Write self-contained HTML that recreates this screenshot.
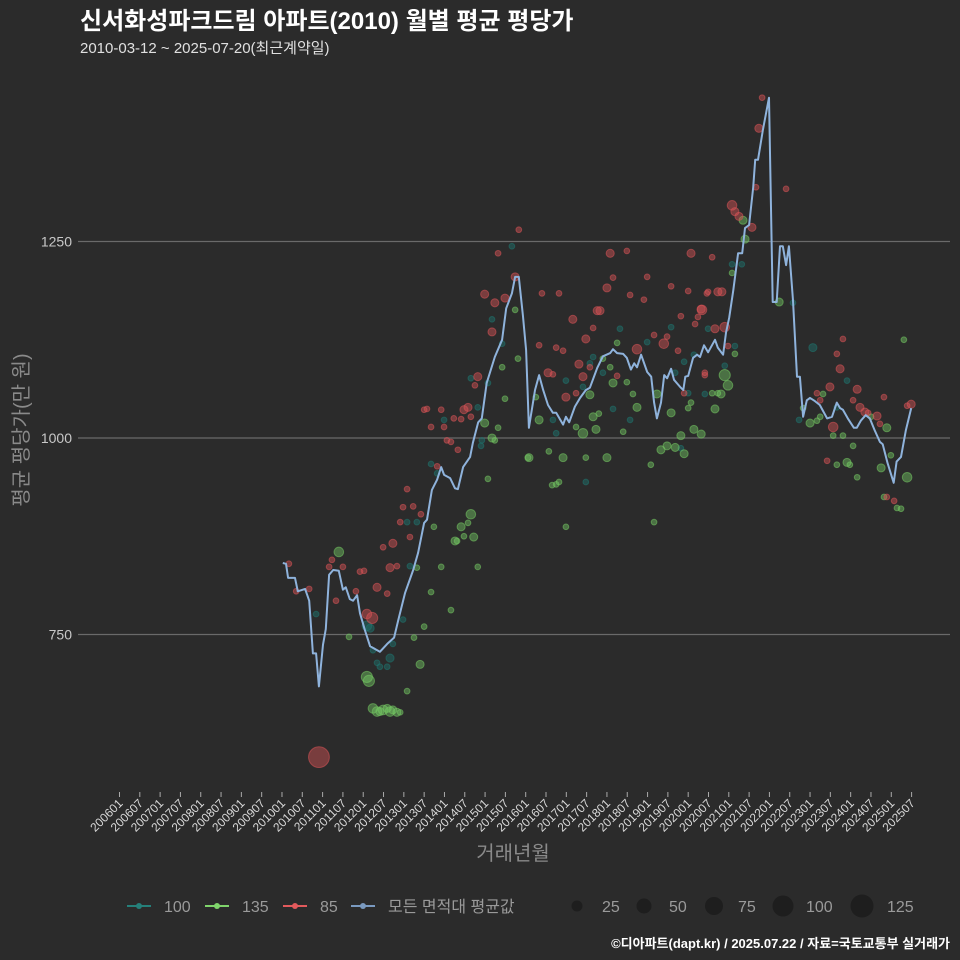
<!DOCTYPE html>
<html><head><meta charset="utf-8">
<style>
body{margin:0;background:#2b2b2b;position:relative;width:960px;height:960px;overflow:hidden;}
svg{display:block;font-family:"Liberation Sans","Noto Sans CJK KR",sans-serif;}
#ytitle{position:absolute;left:22px;top:430px;transform:translate(-50%,-50%) rotate(-90deg);white-space:nowrap;color:#8a8a8a;font-size:20px;font-family:"Liberation Sans","Noto Sans CJK KR",sans-serif;line-height:1;}
</style></head>
<body>
<svg id="chart" width="960" height="960" xmlns="http://www.w3.org/2000/svg">
<rect width="960" height="960" fill="#2b2b2b"/>
<text x="80" y="29" fill="#ffffff" font-size="24" font-weight="bold">신서화성파크드림 아파트(2010) 월별 평균 평당가</text>
<text x="80" y="53" fill="#e0e0e0" font-size="15">2010-03-12 ~ 2025-07-20(최근계약일)</text>
<g id="grid"></g>
<g id="yticks"></g>
<g id="xticks"></g>
<g id="points"></g>
<g id="line"></g>
<text x="513" y="860" text-anchor="middle" fill="#8a8a8a" font-size="20">거래년월</text>
<g id="legend"></g>
<text x="950" y="948" text-anchor="end" fill="#ffffff" font-size="13" font-weight="bold">©디아파트(dapt.kr) / 2025.07.22 / 자료=국토교통부 실거래가</text>
</svg>
<div id="ytitle">평균 평당가(만 원)</div>
<script>
const yTicks=[750,1000,1250];
const xTickLabels=[];
for(let y=2006;y<=2025;y++){xTickLabels.push(y+'01');xTickLabels.push(y+'07');}
const lineDates=[2010.02,2010.10,2010.15,2010.32,2010.39,2010.57,2010.67,2010.76,2010.84,2010.91,2011.01,2011.08,2011.16,2011.26,2011.40,2011.50,2011.57,2011.67,2011.75,2011.85,2011.92,2012.04,2012.17,2012.41,2012.59,2012.76,2012.86,2013.03,2013.23,2013.35,2013.50,2013.57,2013.69,2013.82,2013.92,2013.99,2014.14,2014.26,2014.33,2014.46,2014.63,2014.70,2014.83,2014.92,2015.04,2015.24,2015.42,2015.52,2015.66,2015.74,2015.83,2015.93,2016.01,2016.08,2016.23,2016.33,2016.43,2016.55,2016.67,2016.75,2016.92,2016.99,2017.07,2017.21,2017.34,2017.48,2017.58,2017.76,2017.90,2018.08,2018.15,2018.25,2018.40,2018.49,2018.59,2018.67,2018.74,2018.84,2018.99,2019.09,2019.16,2019.23,2019.33,2019.41,2019.48,2019.58,2019.65,2019.80,2019.88,2019.93,2020.00,2020.12,2020.22,2020.29,2020.39,2020.49,2020.66,2020.73,2020.86,2020.93,2021.01,2021.11,2021.23,2021.33,2021.40,2021.50,2021.60,2021.65,2021.72,2021.84,2021.99,2022.08,2022.18,2022.26,2022.33,2022.41,2022.48,2022.58,2022.68,2022.75,2022.83,2022.92,2023.00,2023.12,2023.24,2023.42,2023.54,2023.66,2023.74,2023.81,2023.93,2024.08,2024.15,2024.25,2024.37,2024.47,2024.59,2024.72,2024.79,2024.91,2025.06,2025.13,2025.24,2025.36,2025.49];
const lineValues=[841,840,822,822,805,808,793,726,726,684,737,757,826,832,831,807,810,795,793,800,777,756,735,728,738,746,768,803,832,854,892,896,934,947,963,953,949,936,935,963,976,994,1020,1025,1070,1103,1125,1165,1184,1205,1205,1156,1112,1013,1061,1080,1061,1042,1032,1032,1017,1027,1020,1040,1051,1061,1064,1089,1104,1108,1113,1108,1107,1102,1087,1095,1090,1106,1084,1078,1045,1025,1045,1080,1076,1088,1074,1065,1061,1078,1079,1102,1106,1103,1118,1109,1125,1115,1106,1134,1153,1188,1235,1235,1267,1271,1319,1354,1354,1392,1433,1173,1173,1244,1244,1220,1244,1175,1078,1078,1027,1048,1051,1047,1042,1025,1027,1045,1038,1036,1025,1013,1013,1022,1029,1025,1010,995,992,968,943,970,976,1010,1038];
const red85=[[2010.17,840,30],[2010.35,805,30],[2010.67,808,30],[2011.23,845,30],[2011.16,836,30],[2011.50,836,30],[2011.33,793,30],[2011.82,805,30],[2011.92,830,30],[2012.02,831,30],[2012.09,776,85],[2012.22,771,115],[2012.34,810,60],[2012.59,802,30],[2012.49,861,30],[2012.73,866,60],[2012.66,835,60],[2012.83,837,30],[2013.08,935,30],[2012.98,912,30],[2013.23,913,30],[2013.42,903,30],[2012.91,893,30],[2013.15,874,30],[2013.67,1014,30],[2013.50,1036,30],[2013.57,1037,30],[2013.92,1036,30],[2013.99,1014,30],[2014.06,997,30],[2014.16,995,30],[2014.33,985,30],[2013.82,964,30],[2014.23,1025,30],[2014.41,1024,30],[2014.48,1036,60],[2014.58,1039,60],[2014.65,1027,30],[2014.75,1067,30],[2014.82,1078,60],[2010.91,594,400],[2014.99,1183,60],[2015.24,1172,60],[2015.17,1135,60],[2015.32,1235,30],[2015.49,1178,60],[2015.74,1205,60],[2016.40,1184,30],[2016.33,1118,30],[2016.82,1184,30],[2016.75,1115,30],[2016.92,1111,30],[2016.55,1083,60],[2016.67,1081,30],[2016.99,1052,60],[2017.24,1057,30],[2017.16,1151,60],[2017.31,1094,60],[2017.41,1078,60],[2017.48,1126,60],[2017.58,1090,30],[2017.66,1140,30],[2017.76,1162,60],[2017.83,1162,60],[2018.00,1191,60],[2018.08,1235,60],[2018.15,1204,30],[2018.49,1238,30],[2018.57,1182,30],[2018.74,1113,85],[2018.91,1176,30],[2018.99,1205,30],[2019.16,1131,30],[2019.40,1120,85],[2019.48,1129,30],[2019.58,1193,30],[2019.75,1111,30],[2019.82,1155,30],[2019.90,1057,30],[2020.00,1187,30],[2020.07,1235,60],[2020.17,1145,30],[2020.24,1154,30],[2020.32,1164,60],[2020.41,1083,30],[2020.49,1186,30],[2020.59,1230,30],[2020.66,1139,60],[2020.73,1186,60],[2020.83,1186,60],[2020.90,1141,85],[2020.98,1117,30],[2018.25,1079,30],[2015.83,1265,30],[2021.82,1433,30],[2021.74,1394,60],[2021.67,1319,30],[2022.41,1317,30],[2021.08,1296,85],[2021.15,1288,60],[2021.25,1282,60],[2021.57,1268,60],[2020.46,1184,30],[2020.34,1163,85],[2020.41,1080,30],[2023.81,1126,30],[2023.66,1107,30],[2023.74,1088,60],[2023.49,1065,60],[2024.16,1062,60],[2024.06,1048,30],[2023.17,1057,30],[2023.25,1048,30],[2024.23,1039,60],[2024.35,1033,60],[2024.43,1032,30],[2024.65,1028,60],[2024.72,1018,30],[2024.82,1052,30],[2023.57,1014,85],[2023.42,971,30],[2024.89,925,30],[2025.07,920,30],[2025.39,1041,30],[2025.49,1043,60]];
const teal100=[[2010.84,776,30],[2012.09,761,85],[2012.17,758,60],[2012.24,730,30],[2012.34,714,30],[2012.41,709,30],[2012.59,709,30],[2012.66,720,60],[2012.73,738,30],[2012.98,769,30],[2013.15,837,30],[2013.08,893,30],[2013.32,893,30],[2013.67,967,30],[2013.82,955,30],[2013.99,1023,30],[2014.65,1076,30],[2014.82,1039,30],[2014.90,990,30],[2015.07,1070,30],[2015.66,1244,30],[2015.17,1151,30],[2015.42,1120,30],[2014.92,997,30],[2016.67,1023,30],[2016.75,1006,30],[2016.99,1073,30],[2017.41,1065,30],[2017.58,1095,30],[2017.66,1103,30],[2017.90,1083,30],[2018.15,1037,30],[2018.32,1139,30],[2018.57,1023,30],[2018.99,1122,30],[2019.58,1141,30],[2019.68,1083,30],[2019.90,1097,30],[2020.00,1057,30],[2020.14,1106,30],[2020.41,1056,30],[2020.49,1139,30],[2020.90,1092,30],[2021.08,1221,30],[2021.15,1117,30],[2019.82,987,30],[2017.48,944,30],[2021.32,1221,30],[2023.07,1115,60],[2023.91,1073,30],[2022.73,1023,30],[2022.58,1172,30],[2023.66,1039,30]];
const green135=[[2011.40,855,85],[2011.65,747,30],[2012.09,696,115],[2012.14,691,115],[2012.24,656,85],[2012.34,652,85],[2012.41,652,60],[2012.49,654,85],[2012.59,656,60],[2012.66,652,85],[2012.73,654,60],[2012.83,651,60],[2012.91,651,30],[2013.08,678,30],[2013.40,712,60],[2013.25,746,30],[2013.50,760,30],[2014.16,781,30],[2013.67,804,30],[2013.92,836,30],[2013.32,835,30],[2013.74,887,30],[2014.82,836,30],[2014.26,869,60],[2014.31,869,30],[2014.48,875,30],[2014.72,874,60],[2014.41,887,60],[2014.58,892,30],[2014.65,903,85],[2015.07,948,30],[2015.17,1000,60],[2015.24,997,30],[2015.32,1013,30],[2014.99,1019,60],[2015.49,1050,30],[2015.42,1090,30],[2016.06,975,30],[2015.74,1163,30],[2015.81,1101,30],[2016.08,975,60],[2016.33,1023,60],[2016.25,1052,30],[2016.57,983,30],[2016.82,944,30],[2016.75,941,30],[2016.65,940,30],[2016.92,975,60],[2016.99,887,30],[2017.24,1014,30],[2017.41,1006,85],[2017.48,975,30],[2017.58,1055,60],[2017.66,1027,60],[2017.80,1031,30],[2017.73,1011,60],[2018.00,975,60],[2017.90,1101,30],[2018.08,1090,30],[2018.15,1070,60],[2018.25,1121,30],[2018.40,1008,30],[2018.49,1071,30],[2018.64,1056,30],[2018.74,1039,60],[2019.08,966,30],[2019.16,893,30],[2019.23,1056,60],[2019.33,985,60],[2019.48,990,60],[2019.68,988,60],[2019.58,1032,60],[2019.82,1003,60],[2019.90,980,60],[2020.00,1038,30],[2020.07,1045,30],[2020.14,1011,60],[2020.32,1005,60],[2020.59,1057,30],[2020.73,1057,30],[2020.81,1056,60],[2020.66,1037,60],[2020.90,1080,115],[2020.98,1067,85],[2021.15,1107,30],[2021.08,1210,30],[2021.35,1277,60],[2021.40,1253,60],[2023.32,1056,30],[2022.83,1038,30],[2023.00,1019,60],[2023.17,1022,30],[2023.25,1027,30],[2023.57,1003,30],[2023.81,1003,30],[2024.06,990,30],[2023.91,969,60],[2023.98,966,30],[2023.66,966,30],[2024.16,950,30],[2024.50,1027,30],[2024.89,1013,60],[2024.99,978,30],[2024.75,962,60],[2025.31,1125,30],[2025.39,950,85],[2024.82,925,30],[2025.14,911,30],[2025.24,910,30],[2022.24,1173,60]];
const legendAreas=['100','135','85','모든 면적대 평균값'];
const legendSizes=[25,50,75,100,125];

const NS='http://www.w3.org/2000/svg';
const xScale=yr=>119.5+(yr-2006)*40.62;
const yScale=v=>438-(v-1000)*0.786;
const rScale=s=>0.52*Math.sqrt(s);
function mk(tag,attrs,parent){const e=document.createElementNS(NS,tag);for(const k in attrs)e.setAttribute(k,attrs[k]);parent.appendChild(e);return e;}

const grid=document.getElementById('grid'),yt=document.getElementById('yticks'),xt=document.getElementById('xticks');
yTicks.forEach(v=>{
  const l=mk('line',{x1:78,x2:950,y1:yScale(v),y2:yScale(v),stroke:'#6a6a6a','stroke-width':1.2},grid);
  
  
  const t=mk('text',{x:72,y:yScale(v)+5,'text-anchor':'end',fill:'#c8c8c8','font-size':14},yt);
  t.textContent=v;
  
  
});
xTickLabels.forEach((lab,i)=>{
  const yr=+lab.slice(0,4)+(lab.slice(4)==='07'?0.5:0);
  const x=xScale(yr);
  const tk=mk('line',{x1:x,x2:x,y1:792,y2:797,stroke:'#aaaaaa','stroke-width':1},xt);
  
  
  const t=mk('text',{x:0,y:0,'text-anchor':'end',fill:'#d8d8d8','font-size':12,transform:`translate(${x+4},${804}) rotate(-45)`},xt);
  t.textContent=lab;
  
  
});

const pts=document.getElementById('points');
function drawSeries(arr,color,name){
  arr.forEach(d=>{
    const c=mk('circle',{cx:xScale(d[0]),cy:yScale(d[1]),r:rScale(d[2]),fill:color,'fill-opacity':0.45,stroke:color,'stroke-opacity':0.55,'stroke-width':1},pts);
    
    
  });
}
drawSeries(teal100,'#1f7670','point-100');
drawSeries(green135,'#74c863','point-135');
drawSeries(red85,'#d95457','point-85');

let dstr='';
lineDates.forEach((yr,i)=>{dstr+=(i?'L':'M')+xScale(yr).toFixed(1)+','+yScale(lineValues[i]).toFixed(1);});
const ln=mk('path',{d:dstr,fill:'none',stroke:'#8fb3dc','stroke-width':2,'stroke-linejoin':'round'},document.getElementById('line'));



const lg=document.getElementById('legend');
const lgColors=['#25807a','#7fd46b','#e25a5c','#7a9ac0'];
const lgX=[127,205,283,351];
legendAreas.forEach((lab,i)=>{
  const g=mk('g',{},lg);
  
  
  mk('line',{x1:lgX[i],x2:lgX[i]+24,y1:906,y2:906,stroke:lgColors[i],'stroke-width':2},g);
  mk('circle',{cx:lgX[i]+12,cy:906,r:3,fill:lgColors[i]},g);
  const t=mk('text',{x:lgX[i]+37,y:912,fill:'#9a9a9a','font-size':16},g);
  t.textContent=lab;
});
const szX=[577,644,714,783,862];
const szLabX=[602,669,738,806,887];
const szR=[5.5,7.5,9,10.5,11.5];
legendSizes.forEach((s,i)=>{
  const g=mk('g',{},lg);
  
  
  mk('circle',{cx:szX[i],cy:906,r:szR[i],fill:'#1e1e1e'},g);
  const t=mk('text',{x:szLabX[i],y:912,fill:'#9a9a9a','font-size':16},g);
  t.textContent=s;
});
</script>
</body></html>
